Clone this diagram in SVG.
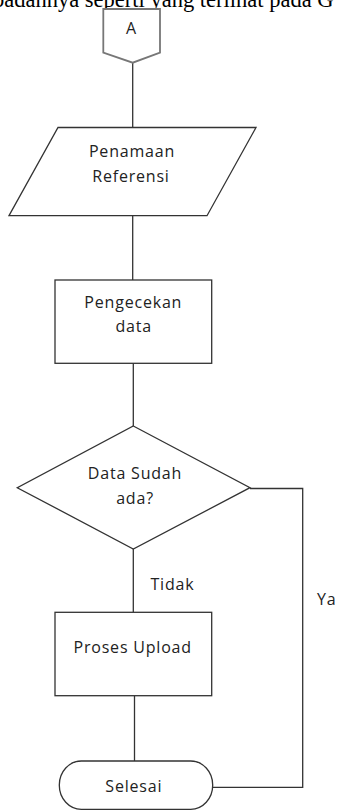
<svg xmlns="http://www.w3.org/2000/svg" width="337" height="810" viewBox="0 0 337 810">
<style>
.s{fill:#fff;stroke:#333;stroke-width:1.3}
.c{fill:none;stroke:#333;stroke-width:1.3}
.t{font-family:"Open Sans","Noto Sans",sans-serif;font-size:16px;fill:#222;text-anchor:middle;letter-spacing:0.8px}
.l{font-family:"Open Sans","Noto Sans",sans-serif;font-size:16px;fill:#222;letter-spacing:0.8px}
</style>
<rect width="337" height="810" fill="#fff"/>
<text x="-7" y="7" font-family="Liberation Serif,serif" font-size="22.5" fill="#000">badannya seperti yang terlihat pada G</text>
<g id="connectors">
<path class="c" d="M132.7 62.7V127.5"/>
<path class="c" d="M132.7 215.7V280"/>
<path class="c" d="M133.3 363.3V426"/>
<path class="c" d="M133.3 549V612.3"/>
<path class="c" d="M134.5 695.7V761"/>
<path class="c" d="M250 488.5H302.7V787.3H212.7"/>
<text class="l" x="150.5" y="590">Tidak</text>
<text class="l" x="317" y="605">Ya</text>
</g>
<g id="nodeA">
<path d="M103.3 9H160V52.7L132.7 62.7L103.3 52.7Z" fill="#fff" stroke="#777" stroke-width="1.8"/>
<text class="t" x="131.5" y="33.5">A</text>
</g>
<g id="penamaan">
<path class="s" d="M58 127.5H256L207 215.7H9Z"/>
<text class="t" x="132" y="156.7">Penamaan</text>
<text class="t" x="131" y="182.3">Referensi</text>
</g>
<g id="pengecekan">
<rect class="s" x="55" y="280" width="156.7" height="83.3"/>
<text class="t" x="133.3" y="307.7">Pengecekan</text>
<text class="t" x="133.7" y="332.3">data</text>
</g>
<g id="keputusan">
<path class="s" d="M133.3 426L250 487.7L133.3 549L17.3 487.7Z"/>
<text class="t" x="135" y="479.3">Data Sudah</text>
<text class="t" x="135" y="504">ada?</text>
</g>
<g id="upload">
<rect class="s" x="55" y="612.3" width="156.7" height="83.4"/>
<text class="t" x="132.7" y="652.7">Proses Upload</text>
</g>
<g id="selesai">
<rect class="s" x="59.3" y="761" width="153.4" height="48.3" rx="22" ry="24"/>
<text class="t" x="133.8" y="791.7">Selesai</text>
</g>
</svg>
